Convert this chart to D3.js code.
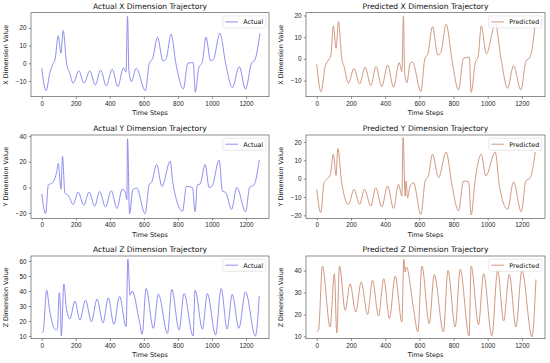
<!DOCTYPE html>
<html>
<head>
<meta charset="UTF-8" />
<script src="https://d3js.org/d3.v7.min.js"></script>
<style>
  body { margin: 0; background: #fff; }
  svg { display: block; font-family: "DejaVu Sans", sans-serif; }
  .tick text { font-size: 6.4px; fill: #222; }
  .tick line { stroke: #333; stroke-width: 0.55; }
  .domain { display: none; }
</style>
</head>
<body>
<div id="chart"></div>
<script>
const width = 550, height = 363;

// time steps and values (turning points of each trace)
const tActX = [0,25,49,68,78,97,113,126,146,165,185,218,249,282,315,346,379,414,447,480,495,504,512,527,555,609,632,652,680,712,730,760,788,832,858,890,902,922,944,965,992,1009,1047,1080,1120,1160,1197,1232,1252,1282];
const actX  = [-2.8,-15.5,-5,0,2,15.5,5.7,18.5,0,-5.7,-11.3,-4.3,-11.3,-4.3,-12.3,-3.8,-12.8,-3.4,-13.2,-2.5,-5,26.5,-4,-10.4,-2.8,-15.5,0,2.8,14.7,1.3,2.3,16.4,0,-14.5,0,0.4,-16.4,-2.8,1,14.8,1.3,2.3,17,0,-13.8,-1.9,-14.7,0,1.9,17];

const tPredX = [0,25,49,68,82,97,113,127,146,160,185,218,250,283,316,347,380,415,449,482,498,507,514,527,546,560,609,632,650,677,708,725,757,790,829,858,892,903,927,945,962,992,1044,1078,1116,1151,1194,1223,1249,1280];
const predX  = [-2.5,-15.1,-3.5,-0.5,1.4,15.2,4.9,17.2,0.3,-3.5,-11.2,-4.3,-11.5,-3.8,-12.3,-3.5,-12.8,-2.8,-13.1,-1.7,-5.8,19.8,-6,-11,-2,-1.5,-15,0,2.5,14.9,1.8,2.8,16,0,-14.3,0.3,0.8,-15.4,-2,1.5,15.2,2.4,16.2,0,-13.5,-3.1,-14.3,-1.2,1.1,18];

const tActY = [0,23,39,49,65,88,97,113,122,136,156,185,214,247,278,311,340,375,408,442,473,492,500,504,516,535,558,607,632,645,675,706,755,769,827,850,885,901,914,930,960,983,1000,1042,1062,1080,1115,1146,1198,1221,1247,1278];
const actY  = [-5.1,-20.5,2,2.6,3.8,12.3,18.7,-1.3,24.4,-4.4,-6.2,-13.3,-3.6,-13.8,-3.6,-14.6,-3.1,-15.4,-2.6,-16.4,-1.3,-4.4,-9.5,37.9,-20.5,-1.8,-0.5,-20.5,2.6,3.8,17.9,0.8,20.5,4.6,-18.5,0.8,0,-19,2,2.6,17.9,0,0.8,21.3,-3,-3.8,-17.2,0,-19,0,2,21.3];

const tPredY = [0,23,43,58,78,97,113,123,146,185,218,250,279,316,345,380,414,449,478,498,505,517,522,531,546,566,609,634,653,677,712,757,790,829,858,888,903,927,962,989,1044,1067,1116,1151,1196,1223,1249,1278];
const predY  = [-5.8,-18.5,-2.2,-0.4,1.8,13.3,1.8,16.4,-2.2,-14,-5.8,-14,-5.8,-14.9,-4.9,-15.5,-4,-16.2,-3.1,-9.5,22.4,-9.5,-1.3,-10.4,-4,-2.2,-19.5,-1.3,1.5,13.3,0.5,14.5,-3,-17.6,-1.3,-1.6,-19.8,-0.4,13.3,1.5,14.5,-3.1,-16.7,-1.8,-18,-1.3,0.5,14.5];

const tActZ = [0,8,29,45,65,84,92,103,110,115,130,145,165,195,224,257,292,325,360,391,424,457,496,506,519,531,574,590,613,656,685,739,764,807,836,889,901,944,973,1021,1054,1089,1119,1158,1197,1255,1278];
const actZ  = [12.2,12.9,40.5,28.4,17.3,14,14.6,38.8,28.4,10,44.5,28.4,21.3,33.2,20.6,33.9,19.5,34.6,18.8,35.4,17.7,36.5,16.2,61.1,37.2,39.9,19.5,11.1,41.6,15.1,37.9,11.8,41,14,38.3,10,40.5,14.6,38.3,10.7,41.6,14.6,37.7,15.1,39.4,10,36.8];

const tPredZ = [0,10,33,78,103,117,133,166,195,228,260,297,326,361,392,425,459,498,509,517,524,566,591,615,658,687,741,767,810,839,891,903,946,976,1024,1058,1093,1126,1165,1200,1259,1282];
const predZ  = [12.3,12.7,42.1,14.3,38.6,11.5,42.1,21.9,34,21.1,34.8,19.9,35.6,19.3,36.3,18.1,37.5,16.5,45.2,39.4,41.7,22.6,12,42.1,15.8,38.2,12,40.1,14.3,40.6,10.2,42.1,15.3,38.6,10.2,40.1,17,38.3,14.3,40.1,9.7,36];

const xTicks = [0,200,400,600,800,1000,1200];

const panels = [
  {title: "Actual X Dimension Trajectory", ylab: "X Dimension Value", t: tActX, v: actX, dom: [-18.9,28.6], ticks: [-10,0,10,20], col: 0, row: 0, kind: "Actual"},
  {title: "Predicted X Dimension Trajectory", ylab: "X Dimension Value", t: tPredX, v: predX, dom: [-17.4,21.3], ticks: [-10,0,10,20], col: 1, row: 0, kind: "Predicted"},
  {title: "Actual Y Dimension Trajectory", ylab: "Y Dimension Value", t: tActY, v: actY, dom: [-24.1,40.9], ticks: [-20,0,20,40], col: 0, row: 1, kind: "Actual"},
  {title: "Predicted Y Dimension Trajectory", ylab: "Y Dimension Value", t: tPredY, v: predY, dom: [-21.6,23.8], ticks: [-20,-10,0,10,20], col: 1, row: 1, kind: "Predicted"},
  {title: "Actual Z Dimension Trajectory", ylab: "Z Dimension Value", t: tActZ, v: actZ, dom: [8.2,63.3], ticks: [10,20,30,40,50,60], col: 0, row: 2, kind: "Actual"},
  {title: "Predicted Z Dimension Trajectory", ylab: "Z Dimension Value", t: tPredZ, v: predZ, dom: [8.9,46.7], ticks: [10,20,30,40], col: 1, row: 2, kind: "Predicted"}
];

const colX = [[31,269],[306,545]];
const rowY = [[12.7,96.7],[135,218.3],[256,338.7]];
const colors = {Actual: "#8888ee", Predicted: "#cc9479"};

const svg = d3.select('#chart').append('svg')
  .attr('width', width).attr('height', height);

panels.forEach((p, i) => {
  const [x0, x1] = colX[p.col], [y0, y1] = rowY[p.row];
  const x = d3.scaleLinear().domain([-63, 1335]).range([x0, x1]);
  const y = d3.scaleLinear().domain(p.dom).range([y1, y0]);
  const g = svg.append('g');

  g.append('clipPath').attr('id', 'clip' + i)
    .append('rect').attr('x', x0).attr('y', y0).attr('width', x1 - x0).attr('height', y1 - y0);

  const pts = p.t.map((t, k) => [t, p.v[k]]);
  const line = d3.line().x(d => x(d[0])).y(d => y(d[1])).curve(d3.curveMonotoneX);
  g.append('path').datum(pts)
    .attr('clip-path', `url(#clip${i})`)
    .attr('d', line)
    .attr('fill', 'none')
    .attr('stroke', colors[p.kind])
    .attr('stroke-width', 0.95)
    .attr('stroke-linejoin', 'round');

  // axes
  g.append('g').attr('transform', `translate(0,${y1})`)
    .call(d3.axisBottom(x).tickValues(xTicks).tickFormat(d3.format('d')).tickSize(2.2).tickPadding(2.2));
  g.append('g').attr('transform', `translate(${x0},0)`)
    .call(d3.axisLeft(y).tickValues(p.ticks).tickFormat(d3.format('d')).tickSize(2.2).tickPadding(2.2));

  g.append('rect').attr('x', x0).attr('y', y0).attr('width', x1 - x0).attr('height', y1 - y0)
    .attr('fill', 'none').attr('stroke', '#444').attr('stroke-width', 0.6);

  g.append('text').attr('x', (x0 + x1) / 2).attr('y', y0 - 4)
    .attr('text-anchor', 'middle').attr('font-size', 7.6).attr('fill', '#111').text(p.title);
  g.append('text').attr('x', (x0 + x1) / 2).attr('y', y1 + 18.5)
    .attr('text-anchor', 'middle').attr('font-size', 6.4).attr('fill', '#111').text('Time Steps');
  g.append('text').attr('transform', `translate(${x0 - 23},${(y0 + y1) / 2}) rotate(-90)`)
    .attr('text-anchor', 'middle').attr('font-size', 6.4).attr('fill', '#111').text(p.ylab);

  // legend
  const lg = g.append('g');
  const txt = lg.append('text').attr('font-size', 6.4).attr('fill', '#111').text(p.kind);
  const tw = txt.node().getComputedTextLength();
  const bw = 2.6 + 12.7 + 5.1 + tw + 2.6, bh = 12;
  const bx = x1 - 3.2 - bw, by = y0 + 3.2;
  lg.insert('rect', 'text').attr('x', bx).attr('y', by).attr('width', bw).attr('height', bh)
    .attr('rx', 1.5).attr('fill', 'rgba(255,255,255,0.8)').attr('stroke', '#d6d6d6').attr('stroke-width', 0.6);
  lg.append('line').attr('x1', bx + 2.6).attr('x2', bx + 15.3)
    .attr('y1', by + bh / 2).attr('y2', by + bh / 2)
    .attr('stroke', colors[p.kind]).attr('stroke-width', 0.95);
  txt.attr('x', bx + 20.4).attr('y', by + bh / 2 + 2.3);
});
</script>
</body>
</html>
